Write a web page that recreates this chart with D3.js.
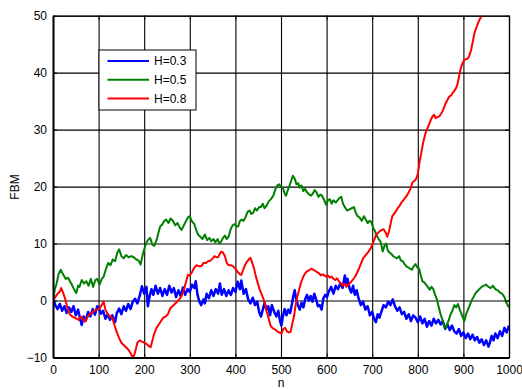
<!DOCTYPE html>
<html>
<head>
<meta charset="utf-8">
<script src="https://cdn.jsdelivr.net/npm/d3@7"></script>
<style>
  html, body { margin: 0; padding: 0; background: #fff; }
  svg { display: block; }
  text { font-family: "Liberation Sans", Arial, Helvetica, sans-serif; }
</style>
</head>
<body>
<svg id="chart" width="522" height="389"></svg>
<script>
// Fractional Brownian motion samples for three Hurst exponents
const xTicks = [0, 100, 200, 300, 400, 500, 600, 700, 800, 900, 1000];
const yTicks = [-10, 0, 10, 20, 30, 40, 50];
const seriesNames = ["H=0.3", "H=0.5", "H=0.8"];
const seriesColors = ["#0000ff", "#008000", "#ff0000"];

const nH03 = [0,5,10,15,20,25,30,35,40,45,50,55,60,63,67,72,77,82,87,92,97,100,105,110,115,120,125,130,136,140,145,150,155,160,165,170,175,180,185,190,195,200,205,208,212,216,220,225,230,235,240,245,250,255,260,265,270,275,280,285,290,295,300,305,310,313,317,321,325,330,333,337,342,347,352,357,362,366,370,375,380,385,390,395,400,405,410,413,418,423,428,433,438,443,448,452,456,460,464,468,472,476,480,485,490,494,498,501,504,508,512,516,520,524,527,530,533,537,541,545,549,553,557,561,565,569,573,577,581,585,589,593,597,601,605,610,615,620,625,630,635,640,643,646,650,654,658,662,666,670,675,680,685,690,695,700,704,708,712,716,720,725,730,735,740,745,750,755,760,765,770,775,780,785,790,795,800,805,810,815,820,825,830,835,840,845,850,855,860,865,870,875,880,885,890,895,900,905,910,915,920,925,930,935,940,945,950,955,958,962,966,970,975,980,985,990,995,1000];
const vH03 = [0.5,-0.8,-1.5,-0.6,-1.8,-1.0,-2.2,-1.2,-2.0,-1.0,-2.6,-1.6,-3.4,-4.3,-2.8,-3.5,-2.0,-2.8,-1.5,-2.5,-1.0,-1.2,-2.3,-1.8,-3.2,-2.4,-3.4,-2.6,-3.8,-2.2,-1.4,-2.4,-1.0,-1.8,-0.6,-1.5,-0.2,0.3,-0.5,0.8,2.5,1.2,2.4,-1.0,0.8,2.0,1.0,2.6,1.2,2.2,0.8,2.0,1.0,2.6,1.4,2.2,0.6,1.8,0.8,2.3,1.0,2.0,1.5,2.8,2.2,3.4,1.0,-0.2,-0.8,0.2,-0.5,1.2,0.4,1.8,0.8,2.0,1.2,3.0,1.0,2.0,0.8,1.8,1.0,2.2,1.5,3.3,2.0,3.5,1.2,2.0,0.2,-0.5,0.5,-0.8,-0.2,-2.0,-2.8,-1.6,-0.4,-1.6,-1.0,-2.6,-0.8,-2.0,-2.8,-1.8,-3.6,-4.4,-2.8,-1.5,-2.6,-1.6,-2.2,-0.6,0.8,1.8,0.4,-0.8,-1.6,-0.4,-1.2,0.2,1.0,0.0,0.8,-0.2,1.2,0.2,-1.0,-0.8,-1.6,0.4,1.0,0.6,1.6,2.4,1.2,2.6,2.0,3.0,2.2,4.4,3.0,3.8,2.2,1.4,2.6,1.0,1.8,0.4,-0.8,-0.2,-1.6,-1.0,-2.6,-2.0,-3.2,-3.8,-2.4,-3.0,-2.0,-0.8,-1.2,-0.2,-0.8,0.2,-1.0,-1.8,-1.2,-2.4,-2.0,-3.2,-2.4,-3.6,-2.6,-3.0,-3.8,-2.8,-4.0,-3.2,-4.6,-3.6,-4.4,-3.2,-4.0,-3.4,-4.2,-3.6,-5.0,-4.2,-5.2,-4.4,-5.4,-5.8,-5.0,-6.2,-5.6,-6.6,-5.8,-6.8,-6.0,-7.0,-6.4,-7.4,-6.8,-7.8,-7.0,-8.1,-7.4,-6.2,-7.0,-5.8,-6.6,-5.4,-6.2,-4.8,-5.6,-4.4];

const nH05 = [0,4,8,12,17,22,28,33,40,46,51,55,58,63,68,73,78,83,88,93,97,102,107,111,116,121,126,131,136,141,145,150,155,160,166,172,177,183,188,192,196,200,204,208,213,218,222,227,231,235,240,244,248,253,258,263,268,273,278,282,287,292,296,300,304,310,314,318,323,328,333,338,343,347,352,356,361,365,369,373,377,381,385,390,394,398,402,406,410,414,418,422,427,431,435,439,443,447,452,456,460,464,468,473,478,483,488,492,496,500,504,508,511,515,519,523,526,530,534,538,541,545,549,553,557,562,566,570,574,578,582,586,590,595,599,603,607,611,615,620,624,628,632,636,640,645,650,655,660,664,668,672,677,682,686,690,694,698,702,706,710,714,718,721,723,727,731,734,738,742,746,750,754,759,763,767,771,775,779,783,787,791,795,799,803,806,810,814,818,822,826,830,834,838,842,846,850,854,858,861,864,868,872,876,880,884,888,892,896,900,902,906,910,914,918,922,926,930,935,940,945,950,955,960,965,970,975,980,985,990,994,997,1000];
const vH05 = [0,2.0,3.0,4.6,5.4,4.6,3.8,4.0,3.0,2.0,1.3,2.6,2.4,3.6,3.0,3.4,2.6,3.8,2.4,3.6,3.8,2.8,3.8,4.2,5.5,6.6,6.2,7.2,6.9,8.4,9.0,7.8,7.4,8.0,7.6,7.8,7.6,7.2,7.0,6.3,7.8,9.0,10.0,10.6,11.0,9.8,9.6,10.6,11.8,13.0,13.4,14.0,14.2,13.6,14.4,14.0,13.2,13.6,12.8,12.4,13.2,14.0,14.6,14.8,14.0,13.4,12.4,11.6,11.2,10.8,11.6,10.6,11.0,10.4,10.8,10.2,10.8,10.0,10.4,11.0,11.4,10.8,11.2,12.6,13.2,13.4,13.0,13.0,14.0,14.2,14.0,14.6,15.6,15.8,15.2,15.4,16.2,15.8,16.4,16.4,17.0,16.2,16.6,17.4,17.8,18.4,19.6,20.2,20.4,20.0,19.8,18.8,18.4,19.4,20.2,21.2,21.9,21.4,20.4,20.6,19.8,20.2,19.2,19.6,19.0,18.6,18.4,18.8,19.4,19.0,18.2,18.6,18.4,17.6,16.8,17.6,17.8,17.0,17.6,17.2,17.6,18.0,18.2,17.0,16.4,15.8,16.0,16.2,16.4,15.4,14.8,14.6,14.0,14.8,14.2,13.6,14.0,13.8,12.8,12.2,11.4,10.8,10.4,9.4,8.6,9.6,10.0,8.8,8.4,8.2,7.8,7.6,7.4,7.8,7.0,6.9,6.4,6.0,5.8,5.6,5.4,6.0,6.4,5.8,5.6,4.6,3.4,3.2,2.8,2.4,1.9,2.4,2.0,1.0,0.2,-1.2,-2.4,-3.4,-4.6,-4.9,-4.2,-3.4,-2.4,-1.8,-0.8,-1.2,-0.6,-1.6,-2.4,-3.2,-3.6,-2.4,-1.6,-0.8,0.0,0.6,1.2,1.6,2.0,2.4,2.6,2.8,2.4,2.2,2.6,2.0,1.8,1.4,1.2,0.6,-0.4,-0.8,-1.2];

const nH08 = [0,5,10,15,18,22,27,32,37,42,47,52,56,61,65,70,75,80,85,90,95,100,104,108,111,115,120,125,130,135,140,145,150,155,160,165,170,174,178,182,185,190,195,200,205,210,214,218,222,227,232,237,242,247,252,257,262,267,272,277,282,287,292,296,300,305,310,315,320,325,330,335,340,345,350,354,358,362,366,369,373,377,381,385,390,395,400,405,410,413,417,421,425,429,433,437,441,445,449,453,457,461,465,469,473,477,481,485,489,493,497,501,505,509,513,517,521,525,529,532,536,540,544,548,551,555,559,563,567,571,575,579,583,587,591,595,599,603,607,611,615,619,623,627,631,635,639,643,647,651,655,660,664,668,672,676,680,684,688,692,697,701,705,709,713,717,721,725,729,733,737,740,744,748,752,756,760,764,768,772,776,780,784,788,792,796,800,804,807,810,813,817,820,824,828,832,836,839,843,847,851,854,858,861,865,869,873,876,880,884,887,889,892,895,899,902,906,910,913,917,921,924,928,932,936,939,943];
const vH08 = [0,0.6,1.2,1.6,2.2,1.4,0.2,-1.4,-2.4,-2.8,-3.0,-3.2,-3.4,-2.8,-3.2,-3.7,-3.0,-2.4,-2.2,-1.8,-1.6,-1.5,-1.2,-0.6,-0.2,-1.6,-2.4,-2.8,-3.0,-4.4,-5.6,-6.6,-7.4,-7.8,-8.2,-8.6,-9.2,-9.9,-9.6,-8.4,-7.4,-7.0,-7.2,-7.4,-7.6,-8.0,-8.2,-7.0,-5.8,-4.8,-4.2,-3.6,-3.0,-2.8,-2.4,-1.4,-1.0,-0.6,-0.2,0.2,0.8,1.8,3.4,4.5,4.4,5.0,5.8,6.2,6.0,6.0,6.6,6.6,6.9,7.0,7.4,7.8,7.6,7.6,8.2,8.6,8.4,7.8,6.6,6.2,6.2,6.0,5.6,5.0,4.6,4.5,5.4,6.2,6.8,7.2,7.5,6.6,5.6,4.2,3.1,2.0,1.2,0.4,-0.6,-2.0,-3.2,-4.4,-4.8,-5.0,-5.2,-5.5,-5.6,-5.8,-5.0,-4.8,-5.4,-5.6,-5.5,-4.0,-2.6,-0.8,0.7,2.0,3.2,4.0,4.5,5.0,5.2,5.4,5.6,5.4,5.2,5.0,4.8,4.4,4.6,4.4,4.2,4.4,4.0,4.2,3.8,3.6,3.9,3.4,3.0,2.6,3.0,2.4,2.8,3.0,3.4,3.9,4.4,5.1,5.8,6.6,7.4,7.8,8.2,8.6,9.2,10.0,10.8,11.6,11.9,12.2,12.4,12.5,12.0,11.2,12.2,13.4,14.8,15.2,15.7,16.2,16.6,17.2,17.6,18.0,18.4,19.0,19.6,20.7,21.0,21.3,22.2,24.4,25.6,27.0,28.2,29.4,30.0,30.8,31.6,32.3,32.6,32.0,32.2,32.3,32.8,33.2,34.0,34.6,35.2,35.8,36.0,36.4,36.8,37.3,38.0,38.7,40.0,41.0,41.8,42.2,42.4,42.5,43.0,44.0,45.6,46.9,47.8,48.7,49.4,49.8,50.4];

const series = [
  { name: seriesNames[0], color: seriesColors[0], n: nH03, v: vH03, w: 2.5 },
  { name: seriesNames[1], color: seriesColors[1], n: nH05, v: vH05, w: 2.0 },
  { name: seriesNames[2], color: seriesColors[2], n: nH08, v: vH08, w: 2.0 }
];

const svg = d3.select("#chart");
const plot = { left: 53, right: 509, top: 15.7, bottom: 357.5 };

const x = d3.scaleLinear().domain([0, 1000]).range([plot.left, plot.right]);
const y = d3.scaleLinear().domain([-10, 50]).range([plot.bottom, plot.top]);

svg.append("defs").append("clipPath").attr("id", "plot-clip")
  .append("rect")
  .attr("x", plot.left).attr("y", plot.top)
  .attr("width", plot.right - plot.left).attr("height", plot.bottom - plot.top);

// grid
const grid = svg.append("g").attr("class", "grid");
grid.append("g")
  .attr("transform", `translate(0,${plot.bottom})`)
  .call(d3.axisBottom(x).tickValues(xTicks).tickSize(-(plot.bottom - plot.top)).tickFormat(""))
  .call(g => g.select(".domain").remove());
grid.append("g")
  .attr("transform", `translate(${plot.left},0)`)
  .call(d3.axisLeft(y).tickValues(yTicks).tickSize(-(plot.right - plot.left)).tickFormat(""))
  .call(g => g.select(".domain").remove());
grid.selectAll("line").attr("stroke", "#2a2a2a").attr("stroke-width", 1.1);

// data lines
const line = d3.line().x(d => x(d[0])).y(d => y(d[1]));
svg.append("g").attr("clip-path", "url(#plot-clip)")
  .selectAll("path")
  .data(series)
  .join("path")
  .attr("d", s => line(s.n.map((n, i) => [n, s.v[i]])))
  .attr("fill", "none")
  .attr("stroke", s => s.color)
  .attr("stroke-width", s => s.w)
  .attr("stroke-linejoin", "round");

// axes with inward ticks
const fmt = d3.format("d");
const axB = svg.append("g").attr("transform", `translate(0,${plot.bottom})`)
  .call(d3.axisBottom(x).tickValues(xTicks).tickFormat(fmt).tickSize(-4).tickPadding(8).tickSizeOuter(0));
const axL = svg.append("g").attr("transform", `translate(${plot.left},0)`)
  .call(d3.axisLeft(y).tickValues(yTicks).tickFormat(fmt).tickSize(-4).tickPadding(6).tickSizeOuter(0));
const axT = svg.append("g").attr("transform", `translate(0,${plot.top})`)
  .call(d3.axisTop(x).tickValues(xTicks).tickSize(-4).tickFormat("").tickSizeOuter(0));
const axR = svg.append("g").attr("transform", `translate(${plot.right},0)`)
  .call(d3.axisRight(y).tickValues(yTicks).tickSize(-4).tickFormat("").tickSizeOuter(0));

[axB, axL].forEach(a => {
  a.select(".domain").attr("stroke", "#000").attr("stroke-width", 2);
  a.selectAll(".tick text").attr("fill", "#000").attr("font-size", 12)
    .attr("font-family", "'Liberation Sans', Arial, sans-serif");
});
[axT, axR].forEach(a => a.select(".domain").attr("stroke", "#000").attr("stroke-width", 1.3));
svg.selectAll(".tick line").attr("stroke", "#000");

// axis titles
svg.append("text")
  .attr("x", (plot.left + plot.right) / 2).attr("y", 387)
  .attr("text-anchor", "middle").attr("font-size", 12).text("n");
svg.append("text")
  .attr("transform", "translate(19,187) rotate(-90)")
  .attr("text-anchor", "middle").attr("font-size", 12).text("FBM");

// legend
const legend = svg.append("g").attr("transform", "translate(99,50)");
legend.append("rect")
  .attr("width", 97).attr("height", 60)
  .attr("fill", "#fff").attr("stroke", "#000").attr("stroke-width", 1);
series.forEach((s, i) => {
  const yy = 11 + i * 18.7;
  legend.append("line")
    .attr("x1", 8.5).attr("x2", 50).attr("y1", yy).attr("y2", yy)
    .attr("stroke", s.color).attr("stroke-width", 2);
  legend.append("text")
    .attr("x", 55).attr("y", yy + 4.2)
    .attr("font-size", 12).text(s.name);
});
</script>
</body>
</html>
